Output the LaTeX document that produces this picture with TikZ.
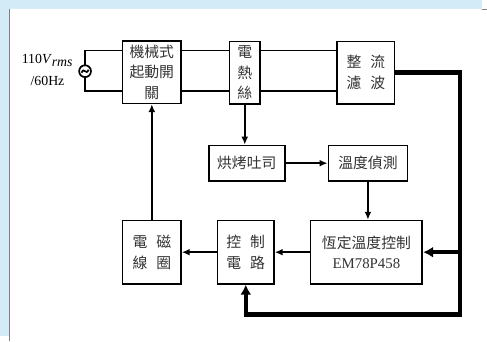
\documentclass[tikz,border=0pt]{standalone}
\usepackage{fontspec}
\setmainfont{Liberation Serif}
\newfontfamily\cjk{Noto Sans CJK TC}
\usetikzlibrary{arrows.meta,calc}
\definecolor{paneblue}{HTML}{D3EBF7}
\newcommand{\blockbox}[4]{node[minimum width=#1pt, minimum height=#2pt](#3) {#4}}

\begin{document}
\begin{tikzpicture}[x=1pt,y=-1pt,
      wire/.style={line width=1.7pt},
      pointer/.style={line width=1.7pt, -{Latex[length=8pt,width=7pt]}, draw=black},
      bus/.style={line width=4.5pt, draw=black},
      bpointer/.style={line width=4.5pt, -{Latex[length=10pt,width=11pt]}, draw=black},
      every node/.style={rectangle, line width=1.7pt, draw=black, fill=white, align=center,
        inner sep=0pt, text=black!80, font=\cjk\fontsize{15}{21}\selectfont}
      ]
      \fill[paneblue] (0,0) rectangle (487,340);
      \draw[fill=white, draw=gray, line width=0.8pt] (10,345) -- (10,9) -- (492,9);
      \fill[white] (10.4,9.4) rectangle (487,340);
      \useasboundingbox (0,0) rectangle (487,340);

      \coordinate (top) at (86,51);
      \coordinate (bot) at (86,92);
      \coordinate (src) at (86,72);
      \coordinate (ne) at (465,318);

      \path (153.5,73) \blockbox{59}{63}{swt}{機械式\\起動開\\關};
      \path (247.5,73.5) \blockbox{31}{63}{heat}{電\\熱\\絲};
      \path (370,73.5) \blockbox{58}{63}{rect}{整\hspace{9pt}流\\濾\hspace{9pt}波};
      \path (249.5,165) \blockbox{77}{36}{toast}{烘烤吐司};
      \path (372,165) \blockbox{80}{36}{sens}{溫度偵測};
      \path (370.5,255) \blockbox{113}{64}{mcu}{恆定溫度控制\\{\rmfamily\fontsize{15}{15}\selectfont EM78P458}};
      \path (248.5,255) \blockbox{57}{64}{ctrl}{控\hspace{9pt}制\\電\hspace{9pt}路};
      \path (153.5,255) \blockbox{59}{64}{coil}{電\hspace{9pt}磁\\線\hspace{9pt}圈};

      \node[draw=none, fill=none, text=black, font=\rmfamily\fontsize{14}{22}\selectfont] (vin) at (48,71)
        {110\textit{V}$_{\textit{rms}}$\\/60Hz};

      \draw[wire] (swt.west |- top) -- (top) -- (bot) -- (swt.west |- bot);
      \draw[wire, fill=white] (src) circle (6pt);
      \draw[wire] ($(src)+(-3.5,1.5)$) .. controls ($(src)+(-1,-5)$) and ($(src)+(1,5)$) .. ($(src)+(3.5,-1.5)$);
      \draw[wire] (swt.east |- top) -- (heat.west |- top);
      \draw[wire] (swt.east |- bot) -- (heat.west |- bot);
      \draw[wire] (heat.east |- top) -- (rect.west |- top);
      \draw[wire] (heat.east |- bot) -- (rect.west |- bot);

      \draw[pointer] (heat.south) -- (heat.south |- toast.north);
      \draw[pointer] (toast.east) -- (sens.west);
      \draw[pointer] (sens.south) -- (sens.south |- mcu.north);
      \draw[pointer] (mcu.west) -- (ctrl.east);
      \draw[pointer] (ctrl.west) -- (coil.east);
      \draw[pointer] (coil.north) -- (swt.south);

      \draw[bus, line join=miter] (rect.east) -| (ne) -| ($(ctrl.south)+(0,10)$);
      \draw[bpointer] ($(ctrl.south)+(0,12)$) -- (ctrl.south);
      \draw[bpointer] (mcu.east -| ne) -- (mcu.east);
    \end{tikzpicture}
\end{document}
